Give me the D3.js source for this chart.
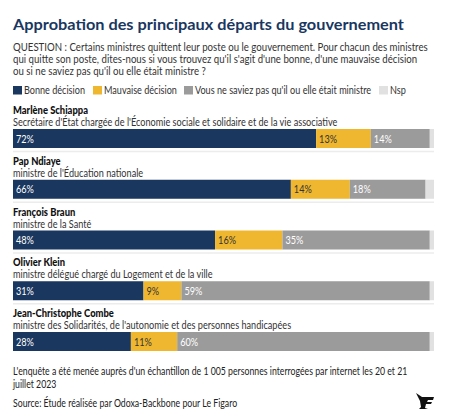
<!DOCTYPE html>
<html>
<head>
<meta charset="utf-8">
<script src="https://cdn.jsdelivr.net/npm/d3@7"></script>
<style>
  body { margin: 0; background: #fff; }
  text { font-family: Lato, "Noto Sans", sans-serif; }
</style>
</head>
<body>
<div id="chart"></div>
<script>
// data
const names = ["Marlène Schiappa", "Pap Ndiaye", "François Braun", "Olivier Klein", "Jean-Christophe Combe"];
const roles = [
  "Secrétaire d'État chargée de l'Économie sociale et solidaire et de la vie associative",
  "ministre de l'Éducation nationale",
  "ministre de la Santé",
  "ministre délégué chargé du Logement et de la ville",
  "ministre des Solidarités, de l'autonomie et des personnes handicapées"
];
const series = ["Bonne décision", "Mauvaise décision", "Vous ne saviez pas qu'il ou elle était ministre", "Nsp"];
const bonne = [72, 66, 48, 31, 28];
const mauvaise = [13, 14, 16, 9, 11];
const saviezPas = [14, 18, 35, 59, 60];
const nsp = [1, 2, 1, 1, 1];

const colors = ["#19375f", "#efb730", "#9b9b9b", "#e1e1e1"];
const labelColors = ["#fff", "#333", "#fff", "#333"];

var width = 460, height = 416;
var left = 13, right = 434;
var bodySize = 10.5;

const svg = d3.select("#chart").append("svg")
    .attr("width", width)
    .attr("height", height);

// squeeze text horizontally so Lato takes the width of the original font
function place(sel, x, y, sx) {
  sel.attr("x", 0).attr("y", 0)
     .attr("transform", "translate(" + x + "," + y + ") scale(" + sx + ",1)");
}
// scale that makes the first text of a selection as wide as the original
function scaleFor(sel, w) {
  return w / sel.node().getComputedTextLength();
}

// title
const title = svg.append("text")
    .style("font-size", "15px").style("font-weight", "bold").style("fill", "#19375f")
    .text("Approbation des principaux départs du gouvernement");
place(title, left, 30, scaleFor(title, 391));

// question
const question = [
  "QUESTION : Certains ministres quittent leur poste ou le gouvernement. Pour chacun des ministres",
  "qui quitte son poste, dites-nous si vous trouvez qu'il s'agit d'une bonne, d'une mauvaise décision",
  "ou si ne saviez pas qu'il ou elle était ministre ?"
];
const qText = svg.append("g").selectAll("text").data(question).enter().append("text")
    .style("font-size", bodySize + "px").style("fill", "#333")
    .text(d => d);
var qsx = scaleFor(qText, 415);
qText.each(function(d, i) { place(d3.select(this), left, 51 + i * 12.2, qsx); });

// legend
const legendX = [13, 93, 184, 379];
const legend = svg.append("g").selectAll("g").data(series).enter().append("g")
    .attr("transform", (d, i) => "translate(" + legendX[i] + ",86)");
legend.append("rect").attr("width", 9).attr("height", 8.5).style("fill", (d, i) => colors[i]);
const legText = legend.append("text")
    .style("font-size", bodySize + "px").style("fill", "#333").text(d => d);
var lsx = scaleFor(legText, 61);
legText.each(function() { place(d3.select(this), 11, 8, lsx); });

// bars
const rows = names.map((n, i) => [bonne[i], mauvaise[i], saviezPas[i], nsp[i]]);
const x = d3.scaleLinear().domain([0, 100]).range([left, right]);
const y = d3.scaleBand().domain(d3.range(names.length)).range([103, 356.75]);

const row = svg.append("g").selectAll("g").data(rows).enter().append("g")
    .attr("transform", (d, i) => "translate(0," + y(i) + ")");

const nameText = row.append("text")
    .style("font-size", bodySize + "px").style("font-weight", "900").style("fill", "#111")
    .text((d, i) => names[i]);
var nsx = scaleFor(nameText, 75);
nameText.each(function() { place(d3.select(this), left, 11, nsx); });

const roleText = row.append("text")
    .style("font-size", bodySize + "px").style("fill", "#333")
    .text((d, i) => roles[i]);
var rsx = scaleFor(roleText, 325);
roleText.each(function() { place(d3.select(this), left, 23, rsx); });

row.each(function(vals, r) {
  var g = d3.select(this);
  var cum = 0;
  vals.forEach(function(v, k) {
    g.append("rect")
      .attr("x", x(cum)).attr("y", 26)
      .attr("width", x(cum + v) - x(cum)).attr("height", 19)
      .style("fill", colors[k]);
    if (k < 3) {
      var t = g.append("text")
        .style("font-size", bodySize + "px").style("fill", labelColors[k])
        .text(v + "%");
      place(t, x(cum) + 3, 39.5, rsx);
    }
    cum += v;
  });
  if (r < rows.length - 1) {
    g.append("line").attr("x1", left).attr("x2", right)
      .attr("y1", 48.5).attr("y2", 48.5)
      .attr("stroke", "#ececec").attr("stroke-width", 1.5);
  }
});

// footer
const footer = [
  ["L'enquête a été menée auprès d'un échantillon de 1 005 personnes interrogées par internet les 20 et 21", 375],
  ["juillet 2023", 387.5],
  ["Source: Étude réalisée par Odoxa-Backbone pour Le Figaro", 407]
];
const footText = svg.append("g").selectAll("text").data(footer).enter().append("text")
    .style("font-size", bodySize + "px").style("fill", "#222")
    .text(d => d[0]);
var fsx = scaleFor(footText, 395);
footText.each(function(d) { place(d3.select(this), left, d[1], fsx); });

// logo
svg.append("path")
    .attr("d", "M416,393 L422,397 L434,397 L433,400 L428,400 L427,402 L432,402 L431,404 L426,404 L425,408 L428,409 L419,409 L421,407 L420,401 Z")
    .style("fill", "#111");
</script>
</body>
</html>
